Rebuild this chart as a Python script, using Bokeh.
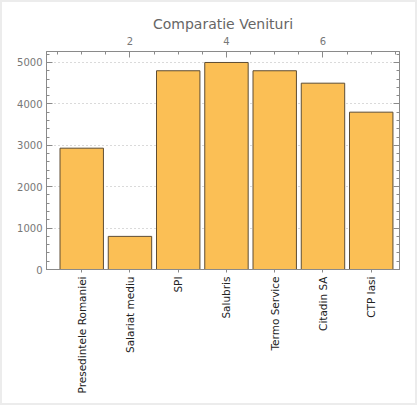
import numpy as np
from bokeh.plotting import figure
from bokeh.models import FixedTicker, LinearAxis, Range1d
from bokeh.embed import file_html
from bokeh.resources import INLINE

categories = ["Presedintele Romaniei", "Salariat mediu", "SPI", "Salubris",
              "Termo Service", "Citadin SA", "CTP Iasi"]
values = [2930, 800, 4800, 5000, 4800, 4500, 3800]
positions = [1, 2, 3, 4, 5, 6, 7]
top_ticks = [2, 4, 6]
y_ticks = [0, 1000, 2000, 3000, 4000, 5000]

FONT = "DejaVu Sans"
GRAY = "#777777"
FRAME = "#8a8a8a"

p = figure(frame_width=353, frame_height=218, output_backend="svg",
           toolbar_location=None, x_range=Range1d(0.27, 7.586),
           y_range=Range1d(0, 5265),
           min_border_left=44, min_border_top=49, min_border_right=16,
           min_border_bottom=134, x_axis_location=None, y_axis_location=None)
p.styles = {"border": "2px solid #ececec"}
p.background_fill_color = "white"
p.border_fill_color = "white"
p.outline_line_color = FRAME
p.outline_line_width = 1

p.title.text = "Comparatie Venituri"
p.title.align = "center"
p.title.text_font = FONT
p.title.text_font_size = "14px"
p.title.text_font_style = "normal"
p.title.text_color = "#666666"
p.title.standoff = 4

p.vbar(x=positions, top=values, width=0.9, bottom=0,
       fill_color="#FBBF55", line_color="#5e4d33", line_width=1)

minor_x = [i * 0.5 for i in range(1, 16)]
minor_y = [i * 200 for i in range(0, 27)]

def style(ax):
    ax.axis_line_color = FRAME
    ax.major_tick_line_color = FRAME
    ax.minor_tick_line_color = FRAME
    ax.major_label_text_font = FONT
    ax.major_label_text_font_size = "10px"
    ax.major_label_text_color = GRAY

left = LinearAxis(ticker=FixedTicker(ticks=y_ticks, minor_ticks=minor_y))
style(left)
left.major_tick_in = 6; left.major_tick_out = 0
left.minor_tick_in = 3; left.minor_tick_out = 0
left.major_label_standoff = 4
p.add_layout(left, "left")

right = LinearAxis(ticker=FixedTicker(ticks=y_ticks, minor_ticks=minor_y))
style(right)
right.major_tick_in = 6; right.major_tick_out = 0
right.minor_tick_in = 3; right.minor_tick_out = 0
right.major_label_overrides = {t: "" for t in y_ticks}
p.add_layout(right, "right")

top = LinearAxis(ticker=FixedTicker(ticks=top_ticks, minor_ticks=minor_x))
style(top)
top.major_tick_in = 6; top.major_tick_out = 0
top.minor_tick_in = 3; top.minor_tick_out = 0
top.major_label_standoff = 7
p.add_layout(top, "above")

bottom = LinearAxis(ticker=FixedTicker(ticks=positions, minor_ticks=[]))
style(bottom)
bottom.major_tick_in = 0; bottom.major_tick_out = 3
bottom.major_label_overrides = {pos: c for pos, c in zip(positions, categories)}
bottom.major_label_orientation = np.pi / 2
bottom.major_label_text_color = "#222222"
bottom.major_label_text_font_size = "10.5px"
bottom.major_label_standoff = 4
p.add_layout(bottom, "below")

p.xgrid.visible = False
p.ygrid.ticker = FixedTicker(ticks=y_ticks[1:])
p.ygrid.grid_line_color = "#b5b5b5"
p.ygrid.grid_line_dash = "1 3"
p.ygrid.grid_line_width = 1

open("out.html", "w").write(file_html(p, INLINE))
